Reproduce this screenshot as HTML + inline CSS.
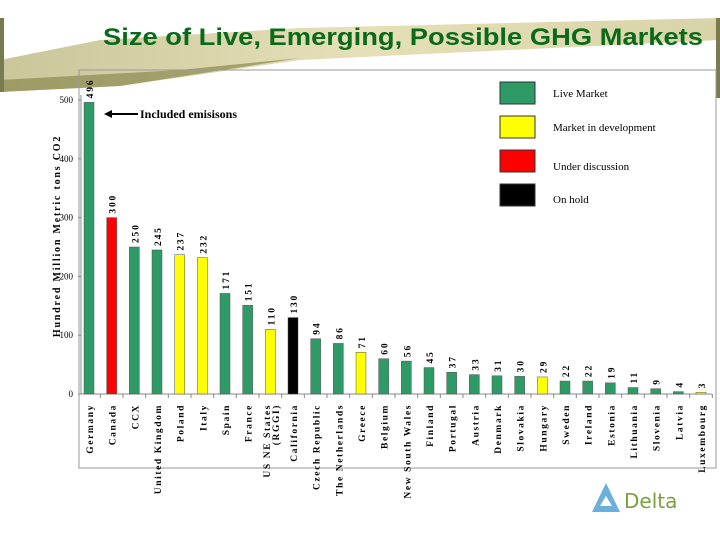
<!DOCTYPE html>
<html><head><meta charset="utf-8"><style>
html,body{margin:0;padding:0;background:#fff;width:720px;height:540px;overflow:hidden}
svg{display:block}
</style></head><body>
<svg id="s" width="720" height="540" xmlns="http://www.w3.org/2000/svg" font-family="Liberation Serif, serif">
<defs><linearGradient id="band" x1="0" y1="0" x2="1" y2="0">
<stop offset="0" stop-color="#c9c69a"/><stop offset="0.5" stop-color="#e6e0b8"/><stop offset="1" stop-color="#d8d3a8"/></linearGradient></defs>
<g>
<polygon points="0,60 0,92 120,86 300,60 720,40 720,18 300,28 100,40" fill="url(#band)"/>
<polygon points="0,80 0,92 120,86 300,58 180,70" fill="#8a8a50" opacity="0.7"/>
<rect x="0" y="18" width="4" height="74" fill="#7a7a50"/>
<rect x="716" y="18" width="4" height="80" fill="#7a7a50"/>
</g>
<text x="103" y="45" font-family="Liberation Sans, sans-serif" font-size="24" font-weight="bold" fill="#0a6a1a" textLength="600" lengthAdjust="spacingAndGlyphs">Size of Live, Emerging, Possible GHG Markets</text>
<rect x="79" y="70" width="637" height="398" fill="none" stroke="#999" stroke-width="1"/>
<g id="chart"></g>
<g font-size="11">
<g><rect x="500" y="82" width="35" height="22" fill="#2e9a66" stroke="#333"/><text x="553" y="97">Live Market</text></g>
<g><rect x="500" y="116" width="35" height="22" fill="#ffff00" stroke="#333"/><text x="553" y="131">Market in development</text></g>
<g><rect x="500" y="150" width="35" height="22" fill="#ff0000" stroke="#333"/><text x="553" y="170">Under discussion</text></g>
<g><rect x="500" y="184" width="35" height="22" fill="#000" stroke="#333"/><text x="553" y="203">On hold</text></g>
</g>
<g>
<line x1="108" y1="114" x2="138" y2="114" stroke="#000" stroke-width="2"/>
<polygon points="104,114 112,110 112,118" fill="#000"/>
<text x="140" y="118" font-size="12" font-weight="bold">Included emisisons</text>
</g>
<text transform="translate(60,236) rotate(-90)" text-anchor="middle" font-size="10" font-weight="bold" letter-spacing="1.8">Hundred Million Metric tons CO2</text>
<g>
<polygon points="606,483 592,512 620,512" fill="#6ab0dc"/>
<polygon points="606,496 600,506 612,506" fill="#fff"/>
<text x="624" y="508" font-family="DejaVu Sans, sans-serif" font-size="20" fill="#7aa040">Delta</text>
</g>
<script>
const categories=["Germany","Canada","CCX","United Kingdom","Poland","Italy","Spain","France","US NE States|(RGGI)","California","Czech Republic","The Netherlands","Greece","Belgium","New South Wales","Finland","Portugal","Austria","Denmark","Slovakia","Hungary","Sweden","Ireland","Estonia","Lithuania","Slovenia","Latvia","Luxembourg"];
const values=[496,300,250,245,237,232,171,151,110,130,94,86,71,60,56,45,37,33,31,30,29,22,22,19,11,9,4,3];
const status=["live","discussion","live","live","dev","dev","live","live","dev","hold","live","live","dev","live","live","live","live","live","live","live","dev","live","live","live","live","live","live","dev"];
const yTicks=[0,100,200,300,400,500];
const colors={live:"#2e9a66",dev:"#ffff00",discussion:"#ff0000",hold:"#000000"};
const NS="http://www.w3.org/2000/svg";
const g=document.getElementById('chart');
const y0=394,y500=100,xAxis=81,right=716;
const yS=v=>y0-(v/500)*(y0-y500);
const step=(701-89)/(categories.length-1);
const xS=i=>89+i*step;
function mk(t,a){const e=document.createElementNS(NS,t);for(const k in a)e.setAttribute(k,a[k]);g.appendChild(e);return e;}
let ax=mk('line',{x1:xAxis,y1:y0,x2:right-4,y2:y0,stroke:'#888'});


let ay=mk('line',{x1:xAxis,y1:yS(500)-5,x2:xAxis,y2:y0,stroke:'#888'});


yTicks.forEach(t=>{
 let l=mk('line',{x1:xAxis-3,y1:yS(t),x2:xAxis,y2:yS(t),stroke:'#888'});
 
 
 let tx=mk('text',{x:xAxis-8,y:yS(t)+3,'text-anchor':'end','font-size':'9'});
 tx.textContent=t;
 
 
});
categories.forEach((c,i)=>{
 const x=xS(i),v=values[i];
 let r=mk('rect',{x:x-5,y:yS(v),width:10,height:y0-yS(v),fill:colors[status[i]],stroke:'#555','stroke-width':'0.5'});
 
 
 let tk=mk('line',{x1:x+step/2,y1:y0,x2:x+step/2,y2:y0+4,stroke:'#888'});
 
 
 let vl=mk('text',{transform:`translate(${x+4},${yS(v)-4}) rotate(-90)`,'font-size':'9.5','font-weight':'bold','letter-spacing':'1.8'});
 vl.textContent=v;
 
 
 const parts=c.split('|');
 parts.forEach((p,j)=>{
  const off=(j-(parts.length-1)/2)*9;
  let cl=mk('text',{transform:`translate(${x+4+off},${y0+10}) rotate(-90)`,'text-anchor':'end','font-size':'9.5','font-weight':'bold','letter-spacing':'1.6'});
  cl.textContent=p;
  
  
 });
});
</script>
</svg>
</body></html>
